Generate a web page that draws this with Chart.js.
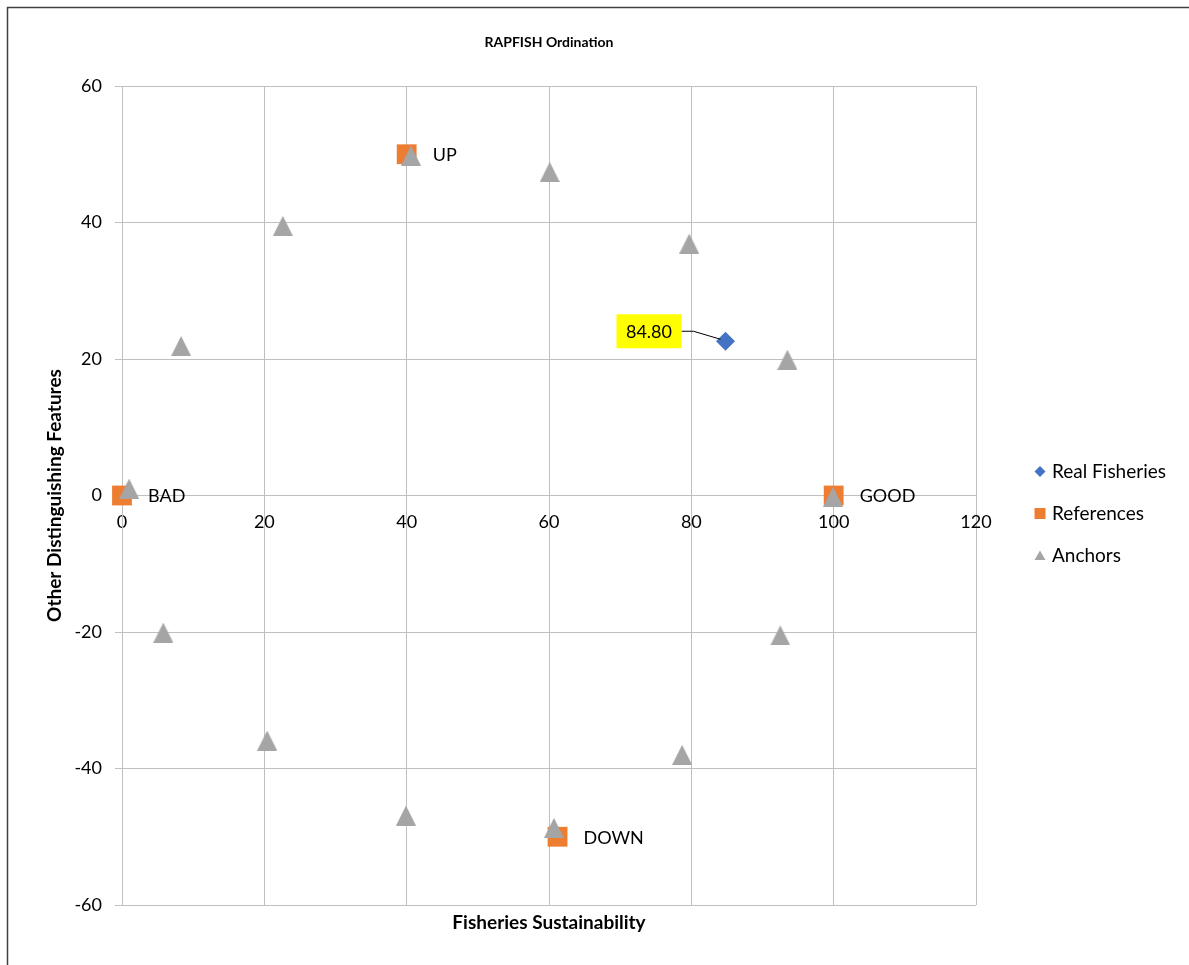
<!DOCTYPE html>
<html><head><meta charset="utf-8">
<script src="https://cdn.jsdelivr.net/npm/chart.js@4"></script>
<style>html,body{margin:0;padding:0;background:#fff;overflow:hidden}</style>
</head><body>
<canvas id="c" width="1189" height="965"></canvas>
<script>
// ---- data ----
const realX = [84.80];
const realY = [22.6];
const realLabels = ['84.80'];
const refX = [0, 100, 40, 61.2];
const refY = [0, 0, 50, -50];
const refLabels = ['BAD', 'GOOD', 'UP', 'DOWN'];
const anchorX = [1.0, 8.3, 22.6, 40.6, 60.1, 79.7, 93.5, 99.9, 92.5, 78.7, 60.7, 39.9, 20.4, 5.8];
const anchorY = [1.0, 21.9, 39.5, 49.8, 47.4, 36.9, 19.9, -0.2, -20.5, -38.0, -48.7, -46.9, -35.9, -20.1];
const xTicks = [0, 20, 40, 60, 80, 100, 120];
const yTicks = [-60, -40, -20, 0, 20, 40, 60];
const seriesNames = ['Real Fisheries', 'References', 'Anchors'];
const chartTitle = 'RAPFISH Ordination';
const xTitle = 'Fisheries Sustainability';
const yTitle = 'Other Distinguishing Features';

// ---- styles ----
const FONT = 'Lato, "Open Sans", sans-serif';
const BLUE = '#4472c4', ORANGE = '#ed7d31', GRAY = '#a5a5a5';
const GRID = '#bfbfbf';

function triCanvas(size, color) {
  const c = document.createElement('canvas');
  c.width = size; c.height = size;
  const g = c.getContext('2d');
  g.fillStyle = color;
  g.beginPath();
  g.moveTo(size / 2, 0);
  g.lineTo(size, size);
  g.lineTo(0, size);
  g.closePath();
  g.fill();
  return c;
}
const tri = triCanvas(20, GRAY);

const toPts = (xs, ys) => xs.map((x, i) => ({x: x, y: ys[i]}));

const deco = {
  id: 'deco',
  beforeDraw(chart) {
    const ctx = chart.ctx;
    ctx.save();
    ctx.fillStyle = '#fff';
    ctx.fillRect(0, 0, chart.width, chart.height);
    ctx.strokeStyle = '#404040';
    ctx.lineWidth = 1.5;
    ctx.beginPath();
    ctx.moveTo(7.5, chart.height + 2);
    ctx.lineTo(7.5, 7.5);
    ctx.lineTo(chart.width + 2, 7.5);
    ctx.stroke();
    ctx.restore();
  },
  afterDatasetsDraw(chart) {
    const ctx = chart.ctx;
    ctx.save();
    ctx.font = '18px ' + FONT;
    ctx.fillStyle = '#000';
    ctx.textBaseline = 'middle';
    ctx.textAlign = 'left';
    const refMeta = chart.getDatasetMeta(1);
    refMeta.data.forEach((el, i) => {
      ctx.fillText(refLabels[i], el.x + 26, el.y + 1);
    });
    const realMeta = chart.getDatasetMeta(0);
    realMeta.data.forEach((el, i) => {
      const px = el.x, py = el.y;
      const bx = px - 109, by = py - 27, bw = 65, bh = 34;
      ctx.strokeStyle = '#000';
      ctx.lineWidth = 1;
      ctx.beginPath();
      ctx.moveTo(bx + bw, py - 10);
      ctx.lineTo(px - 32, py - 10);
      ctx.lineTo(px - 5, py - 2);
      ctx.stroke();
      ctx.fillStyle = '#ffff00';
      ctx.fillRect(bx, by, bw, bh);
      ctx.fillStyle = '#000';
      ctx.textAlign = 'center';
      ctx.fillText(realLabels[i], bx + bw / 2, by + bh / 2 + 1);
    });
    ctx.restore();
  },
  afterDraw(chart) {
    const ctx = chart.ctx;
    const a = chart.chartArea;
    ctx.save();
    ctx.fillStyle = '#000';
    ctx.textAlign = 'center';
    ctx.textBaseline = 'middle';
    ctx.font = 'bold 14px ' + FONT;
    ctx.fillText(chartTitle, (a.left + a.right) / 2, 42);
    ctx.font = 'bold 19px ' + FONT;
    ctx.fillText(xTitle, (a.left + a.right) / 2, 923);
    ctx.save();
    ctx.translate(55, (a.top + a.bottom) / 2);
    ctx.rotate(-Math.PI / 2);
    ctx.fillText(yTitle, 0, 0);
    ctx.restore();
    // legend
    const lx = 1040, ly = [471.5, 513.5, 555.5];
    ctx.textAlign = 'left';
    ctx.font = '19px ' + FONT;
    chart.data.datasets.forEach((ds, i) => {
      const y = ly[i];
      ctx.fillStyle = ds.backgroundColor;
      ctx.beginPath();
      if (i === 0) {
        ctx.moveTo(lx, y - 5.5); ctx.lineTo(lx + 5.5, y); ctx.lineTo(lx, y + 5.5); ctx.lineTo(lx - 5.5, y);
      } else if (i === 1) {
        ctx.rect(lx - 5.5, y - 5.5, 11, 11);
      } else {
        ctx.moveTo(lx, y - 5); ctx.lineTo(lx + 5.5, y + 4.5); ctx.lineTo(lx - 5.5, y + 4.5);
      }
      ctx.closePath();
      ctx.fill();
      ctx.fillStyle = '#000';
      ctx.fillText(ds.label, lx + 12, y);
    });
    ctx.restore();
  }
};

new Chart(document.getElementById('c'), {
  type: 'scatter',
  data: {
    datasets: [
      {label: seriesNames[0], data: toPts(realX, realY), backgroundColor: BLUE, borderWidth: 0,
       pointStyle: 'rectRot', pointRadius: 9.5, pointHoverRadius: 9.5, order: 0, clip: false},
      {label: seriesNames[1], data: toPts(refX, refY), backgroundColor: ORANGE, borderWidth: 0,
       pointStyle: 'rect', pointRadius: 14, pointHoverRadius: 14, order: 2, clip: false},
      {label: seriesNames[2], data: toPts(anchorX, anchorY), backgroundColor: GRAY, borderWidth: 0,
       pointStyle: tri, pointRadius: 10, pointHoverRadius: 10, order: 1, clip: false}
    ]
  },
  options: {
    responsive: false,
    devicePixelRatio: 1,
    animation: false,
    events: [],
    layout: {padding: {top: 86, left: 0, right: 213, bottom: 60}},
    plugins: {legend: {display: false}, tooltip: {enabled: false}, title: {display: false}},
    scales: {
      x: {
        type: 'linear', min: 0, max: 120,
        position: {y: 0},
        afterBuildTicks: s => { s.ticks = xTicks.map(v => ({value: v})); },
        grid: {color: GRID, lineWidth: 1, tickLength: 8, drawOnChartArea: true},
        border: {display: true, color: GRID, width: 1},
        ticks: {color: '#000', font: {family: FONT, size: 18}, padding: 8, maxRotation: 0}
      },
      y: {
        type: 'linear', min: -60, max: 60,
        position: 'left',
        afterBuildTicks: s => { s.ticks = yTicks.map(v => ({value: v})); },
        afterFit: s => { s.width = 122; },
        grid: {color: GRID, lineWidth: 1, tickLength: 7},
        border: {display: true, color: GRID, width: 1},
        ticks: {color: '#000', font: {family: FONT, size: 18}, padding: 13}
      }
    }
  },
  plugins: [deco]
});
</script>
</body></html>
